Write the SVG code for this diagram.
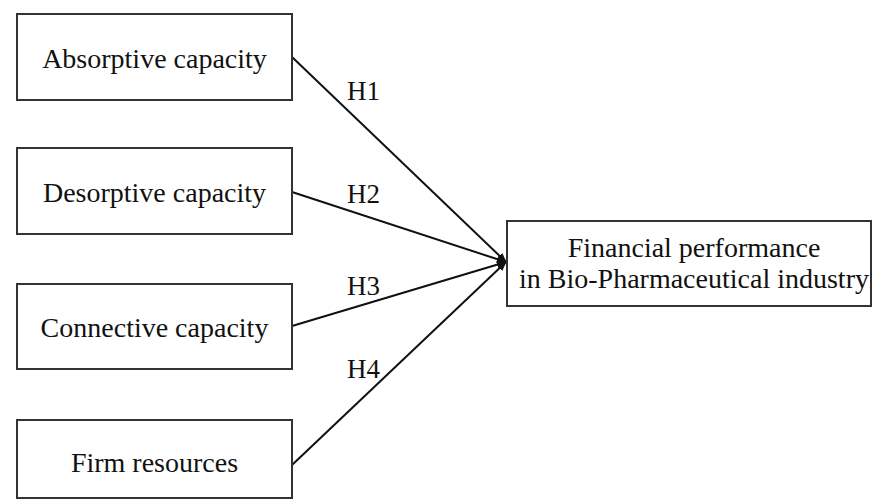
<svg xmlns="http://www.w3.org/2000/svg" width="872" height="499" viewBox="0 0 872 499">
<style>
.box{fill:#fff;stroke:#333;stroke-width:2}
.t{font-family:"Liberation Serif","Times New Roman",serif;font-size:28px;fill:#111;text-anchor:middle}
.lbl{font-family:"Liberation Serif","Times New Roman",serif;font-size:27px;fill:#111}
.c{stroke:#111;stroke-width:2;fill:none;marker-end:url(#ah)}
</style>
<defs>
<marker id="ah" markerWidth="10" markerHeight="8" refX="9" refY="4" orient="auto" markerUnits="userSpaceOnUse">
<path d="M0,0 L10,4 L0,8 Z" fill="#111"/>
</marker>
</defs>
<rect width="872" height="499" fill="#fff"/>
<g id="connectors">
<line class="c" x1="292" y1="57" x2="506" y2="262"/>
<line class="c" x1="292" y1="192" x2="506" y2="262"/>
<line class="c" x1="292" y1="326" x2="506" y2="262"/>
<line class="c" x1="292" y1="465" x2="506" y2="262"/>
<text class="lbl" x="347" y="100">H1</text>
<text class="lbl" x="347" y="203">H2</text>
<text class="lbl" x="347" y="295">H3</text>
<text class="lbl" x="347" y="378">H4</text>
</g>
<g id="absorptive">
<rect class="box" x="17" y="14" width="275" height="86"/>
<text class="t" x="154.5" y="68">Absorptive capacity</text>
</g>
<g id="desorptive">
<rect class="box" x="17" y="148" width="275" height="86"/>
<text class="t" x="154.5" y="202">Desorptive capacity</text>
</g>
<g id="connective">
<rect class="box" x="17" y="284" width="275" height="85"/>
<text class="t" x="154.5" y="337">Connective capacity</text>
</g>
<g id="firm">
<rect class="box" x="17" y="420" width="275" height="78"/>
<text class="t" x="154.5" y="472">Firm resources</text>
</g>
<g id="financial">
<rect class="box" x="507" y="221" width="364" height="85"/>
<text class="t" x="694" y="257">Financial performance</text>
<text class="t" x="694" y="288">in Bio-Pharmaceutical industry</text>
</g>
</svg>
